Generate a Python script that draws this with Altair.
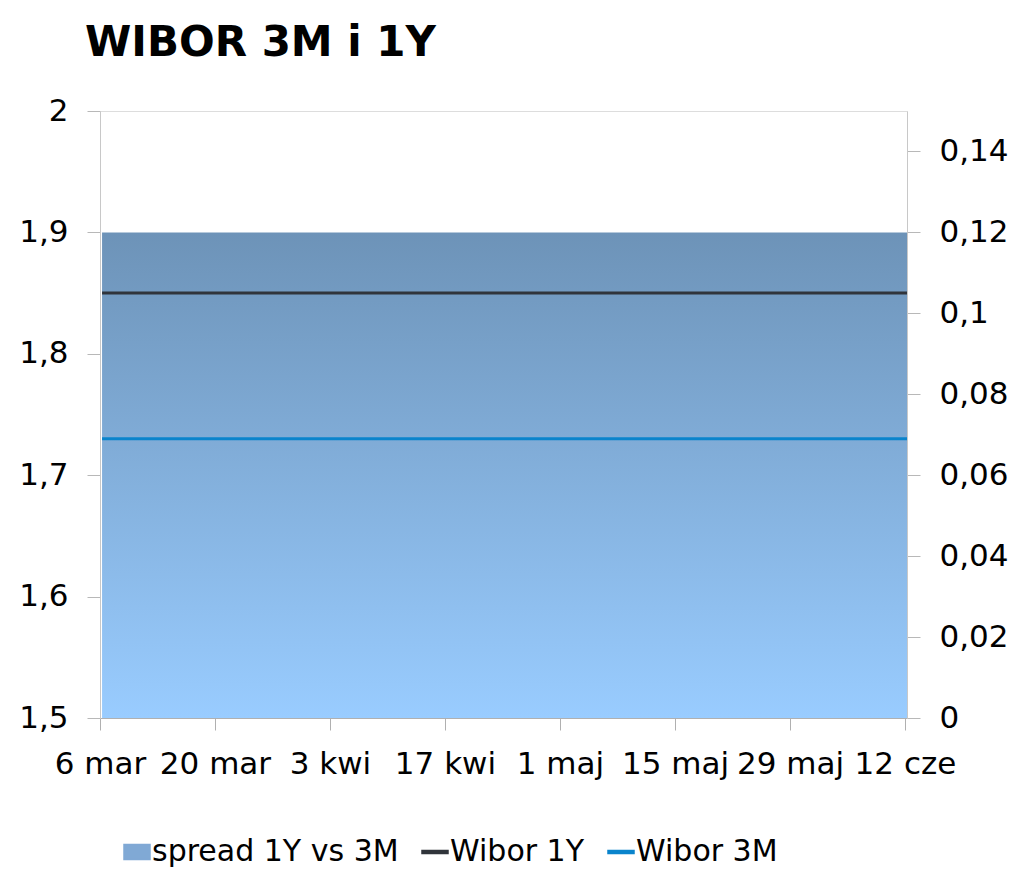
import altair as alt
import pandas as pd

# ---- data ----
dates = ["2017-03-06T06:00", "2017-03-20T06:00", "2017-04-03T06:00", "2017-04-17T06:00",
         "2017-05-01T06:00", "2017-05-15T06:00", "2017-05-29T06:00", "2017-06-12T06:00"]
wibor_1y = [1.85, 1.85, 1.85, 1.85, 1.85, 1.85, 1.85, 1.85]
wibor_3m = [1.73, 1.73, 1.73, 1.73, 1.73, 1.73, 1.73, 1.73]
spread = [0.12, 0.12, 0.12, 0.12, 0.12, 0.12, 0.12, 0.12]

tick_dates = ["2017-03-06", "2017-03-20", "2017-04-03", "2017-04-17",
              "2017-05-01", "2017-05-15", "2017-05-29", "2017-06-12"]
tick_labels = ["6 mar", "20 mar", "3 kwi", "17 kwi", "1 maj", "15 maj", "29 maj", "12 cze"]

left_ticks = [1.5, 1.6, 1.7, 1.8, 1.9, 2.0]
right_ticks = [0, 0.02, 0.04, 0.06, 0.08, 0.1, 0.12, 0.14]

series_names = ["spread 1Y vs 3M", "Wibor 1Y", "Wibor 3M"]
series_colors = ["#80A9D5", "#30343B", "#0A84CC"]
# legend symbols: a filled box for the area, thin bars for the lines
series_symbols = ["M-1,-0.58H1V0.58H-1Z", "M-1,-0.12H1V0.12H-1Z", "M-1,-0.12H1V0.12H-1Z"]

# ---- tables ----
area_df = pd.DataFrame({"date": dates, "spread": spread})
lines_df = pd.DataFrame({
    "date": dates * 2,
    "value": wibor_1y + wibor_3m,
    "series": ["Wibor 1Y"] * len(dates) + ["Wibor 3M"] * len(dates),
})
legend_df = pd.DataFrame({
    "date": [dates[0]] * 3,
    "value": [1.85, 1.85, 1.73],
    "series": series_names,
})

FONT = "DejaVu Sans"
AXIS_FS = 31


def dt(s):
    y, m, d = [int(p) for p in s.split("-")]
    return alt.DateTime(year=y, month=m, date=d)


x_label_expr = "[" + ",".join(f"'{l}'" for l in tick_labels) + "][indexof([" + \
    ",".join(f"'{d}'" for d in tick_dates) + "], timeFormat(datum.value, '%Y-%m-%d'))]"
num_expr = "replace(format(datum.value, '~g'), '.', ',')"

x_enc = alt.X(
    "date:T",
    scale=alt.Scale(domain=[alt.DateTime(year=2017, month=3, date=6),
                            alt.DateTime(year=2017, month=6, date=12, hours=6)]),
    axis=alt.Axis(values=[dt(d) for d in tick_dates], labelExpr=x_label_expr,
                  title=None, grid=False, tickSize=12, labelPadding=19,
                  labelFontSize=AXIS_FS, labelFont=FONT, labelColor="#000000",
                  domainColor="#B0B0B0", tickColor="#B0B0B0", labelFlush=False,
                  labelOverlap=False),
)

color_scale = alt.Scale(domain=series_names, range=series_colors)

legend = alt.Legend(title=None, orient="none", legendX=22, legendY=726,
                    direction="horizontal", symbolSize=676, symbolOpacity=1,
                    labelFontSize=30, labelFont=FONT, labelColor="#000000",
                    labelOffset=0, labelLimit=500, columnPadding=20, padding=0)

gradient = alt.Gradient(
    gradient="linear",
    stops=[alt.GradientStop(color="#6D93B8", offset=0),
           alt.GradientStop(color="#99CCFF", offset=1)],
    x1=1, x2=1, y1=0, y2=1,
)

area = alt.Chart(area_df).mark_area(fill=gradient, interpolate="linear").encode(
    x=x_enc,
    y=alt.Y("spread:Q", scale=alt.Scale(domain=[0, 0.15]),
            axis=alt.Axis(orient="right", values=right_ticks, labelExpr=num_expr,
                          title=None, grid=False, tickSize=13, labelPadding=19,
                          labelFontSize=AXIS_FS, labelFont=FONT, labelColor="#000000",
                          domainColor="#C8C8C8", tickColor="#B8B8B8")),
)

lines = alt.Chart(lines_df).mark_line(strokeCap="butt", strokeWidth=3).encode(
    x=x_enc,
    y=alt.Y("value:Q", scale=alt.Scale(domain=[1.5, 2.0]),
            axis=alt.Axis(orient="left", values=left_ticks, labelExpr=num_expr,
                          title=None, grid=False, tickSize=13, labelPadding=19,
                          labelFontSize=AXIS_FS, labelFont=FONT, labelColor="#000000",
                          domainColor="#C8C8C8", tickColor="#B8B8B8")),
    color=alt.Color("series:N", scale=color_scale, legend=legend),
)

legend_pts = alt.Chart(legend_df).mark_point(filled=True, opacity=0).encode(
    x=x_enc,
    y=alt.Y("value:Q", scale=alt.Scale(domain=[1.5, 2.0]), axis=None),
    color=alt.Color("series:N", scale=color_scale, legend=legend),
    shape=alt.Shape("series:N", scale=alt.Scale(domain=series_names, range=series_symbols),
                    legend=legend),
)

chart = alt.layer(area, lines, legend_pts).resolve_scale(y="independent").properties(
    width=807,
    height=607,
    autosize=alt.AutoSizeParams(type="none"),
    padding={"left": 92, "top": 103, "right": 108, "bottom": 150},
    title=alt.TitleParams("WIBOR 3M i 1Y", anchor="start", frame="group", dx=-15, dy=5,
                          fontSize=42, font=FONT, fontWeight="bold", color="#000000",
                          baseline="alphabetic", offset=2),
).configure_view(stroke="#DDDDDD", strokeWidth=1).configure(background="#FFFFFF")

chart.save("out.html", embed_options={"renderer": "svg", "actions": False})
